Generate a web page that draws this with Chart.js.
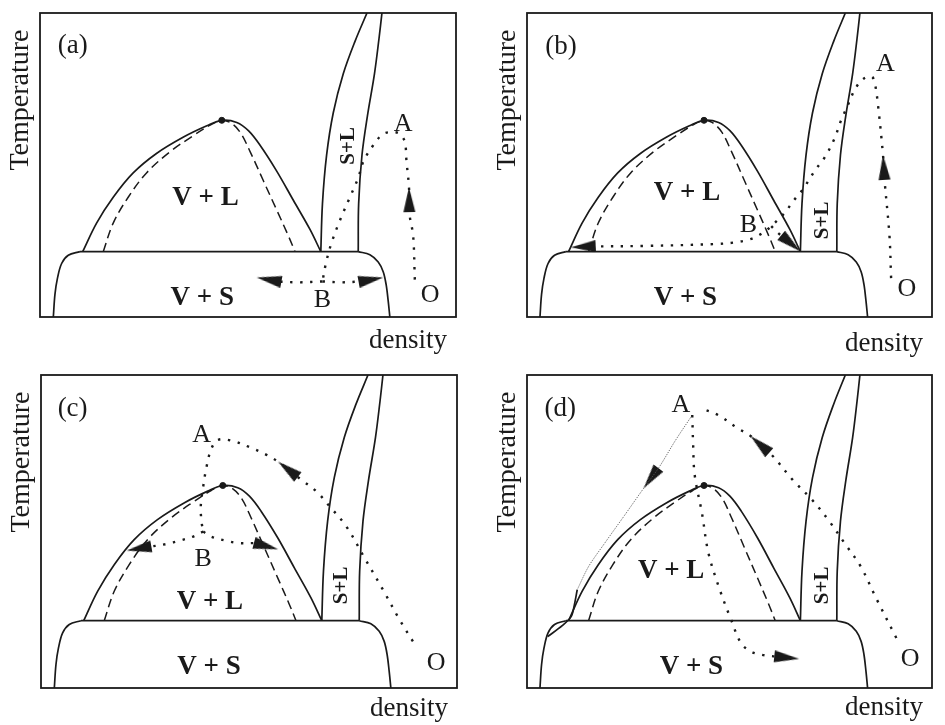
<!DOCTYPE html>
<html><head><meta charset="utf-8">
<script src="https://cdn.jsdelivr.net/npm/chart.js@4.4.0/dist/chart.umd.min.js"></script>
<style>
html,body{margin:0;padding:0;background:#fff;width:945px;height:725px;overflow:hidden;}
canvas{position:absolute;}
</style></head><body>
<canvas id="pa" width="472" height="362" style="left:0;top:0"></canvas>
<canvas id="pb" width="473" height="362" style="left:472px;top:0"></canvas>
<canvas id="pc" width="472" height="363" style="left:0;top:362px"></canvas>
<canvas id="pd" width="473" height="363" style="left:472px;top:362px"></canvas>
<script>
// ---- shared phase diagram (density 0-100, temperature 0-100) ----
const vsLeftCorner = [[3.2,0],[3.6,7.5],[4.2,12.8],[5.2,17.6],[6.8,20.3],[9.6,21.5]];
const vsTop = [[9.6,21.5],[76.5,21.5]];
const vsRightCorner = [[76.5,21.5],[79.3,20.5],[81.3,18.1],[82.5,14.9],[83.2,10.7],[83.7,5.3],[84.1,0]];
const binodal = [[10.26,21.5],[13.6,30.9],[17.6,39.4],[22.4,47.4],[28.0,53.8],[34.5,59.2],[40.1,62.9],[43.7,64.7],[47.3,64.0],[50.1,61.3],[52.9,56.5],[56.9,48.0],[60.9,38.4],[64.9,28.8],[67.5,21.5]];
const spinodal = [[15.2,21.5],[17.6,30.9],[21.2,39.4],[25.6,47.4],[31.3,54.4],[36.9,59.7],[40.9,63.1],[43.5,64.6],[45.7,64.0],[48.1,60.8],[50.5,54.4],[53.7,44.8],[56.9,35.2],[59.7,26.7],[61.3,21.5]];
const solidLiquidLeft = [[67.5,21.5],[67.9,37.3],[68.9,53.3],[70.5,67.2],[72.9,80.0],[75.7,90.6],[78.6,100]];
const solidLiquidRight = [[76.5,21.5],[76.6,37.3],[77.4,53.3],[78.7,66.1],[80.4,80.0],[81.5,91.7],[82.2,100]];
const criticalPoint = [[43.7,64.7]];

// ---- panel (a) ----
const pathA = [[90.1,12.3],[89.7,26.7],[88.8,34.1],[88.7,42.7],[88.1,51.2],[87.7,57.6],[86.5,60.2],[84.9,60.8],[82.5,60.2],[80.1,56.5],[77.7,51.0],[76.5,45.8],[74.5,39.4],[72.1,31.8],[70.1,24.5],[68.8,18.1],[67.9,11.7]];
const pathALeft = [[67.9,11.7],[62.5,11.4],[57.7,11.6]];
const pathARight = [[67.9,11.7],[72.5,11.4],[77.3,11.7]];
const arrowsA = [[88.7,42.7,88.8,34.1],[52.1,13.0,57.7,11.6],[82.5,13.0,77.3,11.7]];
const textA = [['(a)',7.85,89.7],['A',87.3,64.1],['B',67.9,6.2],['O',93.8,7.8]];
const regionA = [['V + L',39.8,39.7],['V + S',39.0,6.9]];
const slA = [73.7,56.3];

// ---- panel (b) ----
const pathB = [[89.9,12.8],[89.5,26.7],[88.3,44.8],[87.9,53.3],[86.7,69.3],[85.9,76.8],[85.1,79.1],[83.1,78.4],[81.1,75.2],[79.1,69.3],[77.5,64.5],[75.9,58.6],[73.5,52.5],[71.1,48.2],[69.5,44.8],[67.9,41.6],[65.9,38.4],[63.5,34.1],[60.3,29.9],[58.3,27.7],[55.1,25.6],[51.1,24.5],[46.3,24.0],[30,23.4],[15.2,23.2]];
const pathBBranch = [[60.3,29.9],[62.0,27.6],[63.9,25.6]];
const arrowsB = [[87.9,53.3,88.3,44.8],[10.8,22.9,15.2,23.2],[67.5,21.6,63.9,25.6]];
const textB = [['(b)',8.4,89.6],['A',88.5,83.7],['B',54.7,30.7],['O',93.8,9.6]];
const regionB = [['V + L',39.5,41.4],['V + S',39.1,6.9]];
const slB = [72.7,31.8];

// ---- panel (c) ----
const pathC = [[89.4,14.9],[86.2,21.8],[82.2,31.4],[77.8,41.5],[73.4,51.6],[69.4,58.0],[66.2,62.8],[62.6,66.5],[57.0,72.3],[54.2,74.5],[50.2,76.9],[46.2,78.9],[42.6,79.3],[41.0,76.6],[39.8,70.7],[39.0,64.4],[38.4,58.0],[38.6,53],[39.0,50.0]];
const pathCLeft = [[39.0,50.0],[36.6,48.4],[33.4,47.1],[30.2,46.0],[25.4,45.0]];
const pathCRight = [[39.0,50.0],[40.8,48.4],[44.4,47.1],[47.4,46.3],[51.4,46.3]];
const arrowsC = [[57.0,72.3,62.6,66.5],[20.6,43.9,25.4,45.0],[57.0,44.3,51.4,46.3]];
const textC = [['(c)',7.6,89.9],['A',38.6,81.4],['B',39.0,41.8],['O',95.0,8.5]];
const regionC = [['V + L',40.6,28.0],['V + S',40.4,7.4]];
const slC = [72.0,32.8];

// ---- panel (d) ----
const pathD = [[91.2,16.0],[86.4,28.2],[82.4,38.8],[78.4,46.3],[74.4,53.7],[70.4,60.1],[65.6,66.5],[60.4,74.5],[55.2,80.5],[52.0,83.0],[47.2,87.2],[42.8,89.4]];
const pathDDown = [[40.8,87.2],[41.0,78.7],[41.4,68.1],[43.2,55.9],[44.8,43.1],[47.6,31.4],[50.4,21.8],[52.8,14.4],[55.2,11.7],[58.0,10.6],[61.2,10.1]];
const pathDFine = [[40.8,87.2],[36.6,79.0],[32.6,70.5],[28.8,63.8],[24.0,55.0],[19.2,46.3],[15.2,38.8],[12.4,31.4]];
const pathDSolid = [[12.4,31.4],[11.6,26.0],[10.9,22.8],[8.7,19.9],[5.1,16.4]];
const arrowsD = [[55.2,80.5,60.4,74.5],[28.8,63.8,32.6,70.5],[67.2,9.3,61.2,10.1]];
const textD = [['(d)',8.2,89.9],['A',38.0,91.0],['O',94.6,9.9]];
const regionD = [['V + L',35.6,38.1],['V + S',40.6,7.4]];
const slD = [72.6,32.8];

const axisTitleY = 'Temperature';
const axisTitleX = 'density';

// ---- rendering ----
const SERIF = "'Liberation Serif','Times New Roman',serif";
const INK = '#1a1a1a';
function pts(a){ return a.map(p => ({x:p[0], y:p[1]})); }
function arrowImage(w, len){
  const c = document.createElement('canvas');
  c.width = w; c.height = len*2;
  const g = c.getContext('2d');
  g.fillStyle = INK;
  g.beginPath(); g.moveTo(w/2, len); g.lineTo(w, 2*len); g.lineTo(0, 2*len); g.closePath(); g.fill();
  return c;
}
const ARROW = arrowImage(12, 25);

function solid(a, tension){ return {data: pts(a), borderColor: INK, borderWidth: 1.7, tension: tension ?? 0.35, pointRadius: 0, showLine: true}; }
function dashed(a){ return {data: pts(a), borderColor: INK, borderWidth: 1.5, borderDash: [9,5], tension: 0.35, pointRadius: 0, showLine: true}; }
function dotted(a){ return {data: pts(a), borderColor: INK, borderWidth: 2.4, borderDash: [2.4,7.6], tension: 0.35, pointRadius: 0, showLine: true}; }
function fine(a){ return {data: pts(a), borderColor: '#555', borderWidth: 1, borderDash: [1,1.2], tension: 0.3, pointRadius: 0, showLine: true}; }
function arrows(a){
  return {data: a.map(r => ({x:r[0], y:r[1], fx:r[2], fy:r[3]})), showLine: false, pointStyle: ARROW, pointRadius: 12,
    pointRotation: ctx => {
      const r = ctx.raw; if (!r) return 0;
      const xs = ctx.chart.scales.x, ys = ctx.chart.scales.y;
      const vx = xs.getPixelForValue(r.x) - xs.getPixelForValue(r.fx);
      const vy = ys.getPixelForValue(r.y) - ys.getPixelForValue(r.fy);
      return Math.atan2(vx, -vy) * 180 / Math.PI;
    }};
}

const textPlugin = {
  id: 'texts',
  afterDatasetsDraw(chart, args, o){
    const g = chart.ctx, xs = chart.scales.x, ys = chart.scales.y, ca = chart.chartArea;
    g.save();
    g.strokeStyle = INK; g.lineWidth = 1.8;
    g.strokeRect(ca.left, ca.top, ca.right - ca.left, ca.bottom - ca.top);
    g.fillStyle = INK; g.textAlign = 'center'; g.textBaseline = 'alphabetic';
    o.texts.forEach(t => {
      const fs = t[0].startsWith('(') ? 27 : 26;
      g.font = fs + 'px ' + SERIF;
      g.fillText(t[0], xs.getPixelForValue(t[1]), ys.getPixelForValue(t[2]) + fs*0.33);
    });
    g.font = 'bold 27px ' + SERIF;
    o.regions.forEach(t => g.fillText(t[0], xs.getPixelForValue(t[1]), ys.getPixelForValue(t[2]) + 27*0.33));
    g.save();
    g.translate(xs.getPixelForValue(o.sl[0]), ys.getPixelForValue(o.sl[1]));
    g.rotate(-Math.PI/2);
    g.font = 'bold 21px ' + SERIF;
    g.fillText('S+L', 0, 21*0.33);
    g.restore();
    g.save();
    g.translate(ca.left - 21, ca.top + 87);
    g.rotate(-Math.PI/2);
    g.font = '28px ' + SERIF;
    g.fillText(axisTitleY, 0, 28*0.33);
    g.restore();
    g.textAlign = 'right';
    g.font = '27px ' + SERIF;
    g.fillText(axisTitleX, ca.right - 9, ca.bottom + o.dy + 27*0.3);
    g.restore();
  }
};

function base(){
  return [solid(vsLeftCorner), solid(vsTop, 0), solid(vsRightCorner), solid(binodal), dashed(spinodal),
    solid(solidLiquidLeft), solid(solidLiquidRight),
    {data: pts(criticalPoint), showLine: false, pointRadius: 3, pointBackgroundColor: INK, pointBorderColor: INK}];
}

function panel(id, pad, extra, texts, regions, sl, dy){
  new Chart(document.getElementById(id), {
    type: 'scatter',
    data: {datasets: base().concat(extra)},
    options: {
      responsive: false, animation: false, devicePixelRatio: 1,
      layout: {padding: pad},
      plugins: {legend: {display: false}, tooltip: {enabled: false}, texts: {texts, regions, sl, dy}},
      scales: {x: {type: 'linear', min: 0, max: 100, display: false}, y: {type: 'linear', min: 0, max: 100, display: false}},
      events: []
    },
    plugins: [textPlugin]
  });
}

panel('pa', {left:40, top:4, right:16, bottom:45},
  [dotted(pathA), dotted(pathALeft), dotted(pathARight), arrows(arrowsA)], textA, regionA, slA, 23);
panel('pb', {left:55, top:4, right:1, bottom:45},
  [dotted(pathB), dotted(pathBBranch), arrows(arrowsB)], textB, regionB, slB, 26);
panel('pc', {left:41, top:13, right:15, bottom:37},
  [dotted(pathC), dotted(pathCLeft), dotted(pathCRight), arrows(arrowsC)], textC, regionC, slC, 20);
panel('pd', {left:55, top:13, right:2, bottom:37},
  [dotted(pathD), dotted(pathDDown), fine(pathDFine), solid(pathDSolid, 0.3), arrows(arrowsD)], textD, regionD, slD, 19);
</script>
</body></html>
